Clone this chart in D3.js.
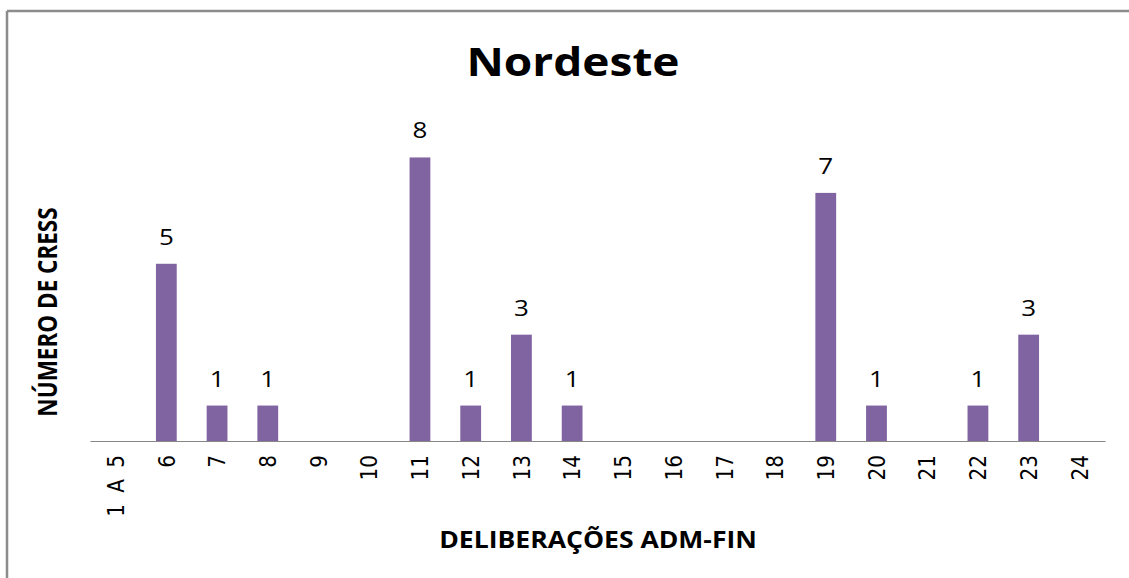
<!DOCTYPE html>
<html>
<head>
<meta charset="utf-8">
<script src="https://cdn.jsdelivr.net/npm/d3@7"></script>
<style>
  body { margin: 0; background: #fff; }
  svg { display: block; }
</style>
</head>
<body>
<div id="chart"></div>
<script>
const categories = ["1 A 5", "6", "7", "8", "9", "10", "11", "12", "13", "14", "15", "16", "17", "18", "19", "20", "21", "22", "23", "24"];
const values = [0, 5, 1, 1, 0, 0, 8, 1, 3, 1, 0, 0, 0, 0, 7, 1, 0, 1, 3, 0];
const chartTitle = "Nordeste";
const xTitle = "DELIBERAÇÕES ADM-FIN";
const yTitle = "NÚMERO DE CRESS";

const W = 1129, H = 578;
// the original picture is a bit stretched sideways, so text gets widened too
const sx = 1.18;

const svg = d3.select("#chart").append("svg")
    .attr("width", W)
    .attr("height", H);

// outer frame (only top and left edges are visible in the original)
svg.append("line").attr("x1", 7).attr("x2", W).attr("y1", 11).attr("y2", 11)
    .attr("stroke", "#8c8c8c").attr("stroke-width", 2.5);
svg.append("line").attr("x1", 7).attr("x2", 7).attr("y1", 11).attr("y2", H)
    .attr("stroke", "#8c8c8c").attr("stroke-width", 2.5);

const margin = { top: 122, left: 90, right: 24, bottom: 137 };
const width = W - margin.left - margin.right;
const height = H - margin.top - margin.bottom;

const g = svg.append("g").attr("transform", `translate(${margin.left},${margin.top})`);

const x = d3.scaleBand()
    .domain(categories)
    .range([0, width])
    .paddingInner(0.59)
    .paddingOuter(0.3);

const y = d3.scaleLinear()
    .domain([0, 9])
    .range([height, 0]);

const data = categories.map((c, i) => ({ cat: c, val: values[i] }));

g.selectAll("rect.bar")
    .data(data.filter(d => d.val > 0))
    .enter().append("rect")
    .attr("class", "bar")
    .attr("x", d => x(d.cat))
    .attr("y", d => y(d.val))
    .attr("width", x.bandwidth())
    .attr("height", d => height - y(d.val))
    .attr("fill", "#8064a2");

g.selectAll("text.val")
    .data(data.filter(d => d.val > 0))
    .enter().append("text")
    .attr("class", "val")
    .attr("transform", d => `translate(${x(d.cat) + x.bandwidth() / 2},${y(d.val) - 19}) scale(${sx},1)`)
    .attr("text-anchor", "middle")
    .style("font-family", "'Open Sans', sans-serif")
    .style("font-size", "22px")
    .attr("fill", "#000")
    .text(d => d.val);

const xAxis = g.append("g")
    .attr("transform", `translate(0,${height})`)
    .call(d3.axisBottom(x).tickSize(0).tickPadding(0));
xAxis.select(".domain").attr("stroke", "#868686").attr("stroke-width", 1.2);
xAxis.selectAll("text")
    .attr("transform", `scale(${sx},1) rotate(-90)`)
    .attr("x", -14)
    .attr("y", 0)
    .attr("dy", "0.35em")
    .style("text-anchor", "end")
    .style("font-family", "'DejaVu Sans', sans-serif")
    .style("font-size", "20px")
    .style("word-spacing", "5px")
    .attr("fill", "#000");

svg.append("text")
    .attr("transform", `translate(573,76) scale(${sx},1)`)
    .attr("text-anchor", "middle")
    .style("font-family", "'Open Sans', sans-serif")
    .style("font-weight", "bold")
    .style("font-size", "39px")
    .text(chartTitle);

svg.append("text")
    .attr("transform", `translate(598,548) scale(${sx},1)`)
    .attr("text-anchor", "middle")
    .style("font-family", "'Open Sans', sans-serif")
    .style("font-weight", "bold")
    .style("font-size", "22.5px")
    .text(xTitle);

svg.append("text")
    .attr("transform", `translate(57,312) scale(${sx},1) rotate(-90)`)
    .attr("text-anchor", "middle")
    .style("font-family", "'Open Sans', sans-serif")
    .style("font-weight", "bold")
    .style("font-size", "22.5px")
    .text(yTitle);
</script>
</body>
</html>
